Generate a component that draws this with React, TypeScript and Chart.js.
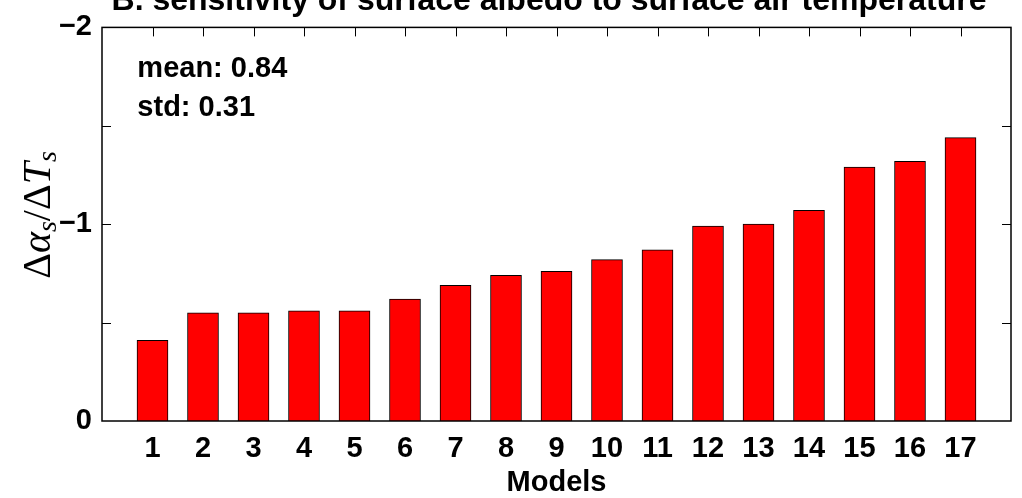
import React, { useEffect, useRef } from "react";
import { Chart, registerables } from "chart.js";

Chart.register(...registerables);

const models: string[] = ["1", "2", "3", "4", "5", "6", "7", "8", "9", "10", "11", "12", "13", "14", "15", "16", "17"];
const sensitivity: number[] = [-0.41, -0.55, -0.55, -0.56, -0.56, -0.62, -0.69, -0.74, -0.76, -0.82, -0.87, -0.99, -1.0, -1.07, -1.29, -1.32, -1.44];
const yLabelMap: Record<string, string> = { "-2": "\u22122", "-1": "\u22121", "0": "0" };
const statLines: string[] = ["mean: 0.84", "std: 0.31"];
const titleText = "B. sensitivity of surface albedo to surface air temperature";
const xTitle = "Models";

const SANS = '"Liberation Sans", Arial, sans-serif';
const SERIF = '"Liberation Serif", "Times New Roman", serif';

const framePlugin = {
  id: "matlabFrame",
  beforeDatasetsDraw(chart: any) {
    const { ctx, chartArea: a, scales } = chart;
    const x = scales.x;
    const y = scales.y;
    const tl = 9;
    ctx.save();
    ctx.strokeStyle = "#000";
    ctx.lineWidth = 1;
    for (let i = 1; i <= models.length; i++) {
      const px = Math.round(x.getPixelForValue(i)) + 0.5;
      ctx.beginPath();
      ctx.moveTo(px, a.top);
      ctx.lineTo(px, a.top + tl);
      ctx.moveTo(px, a.bottom);
      ctx.lineTo(px, a.bottom - tl);
      ctx.stroke();
    }
    for (let v = -1.5; v <= -0.5; v += 0.5) {
      const py = Math.round(y.getPixelForValue(v)) + 0.5;
      ctx.beginPath();
      ctx.moveTo(a.left, py);
      ctx.lineTo(a.left + tl, py);
      ctx.moveTo(a.right, py);
      ctx.lineTo(a.right - tl, py);
      ctx.stroke();
    }
    ctx.restore();
  },
  afterDraw(chart: any) {
    const { ctx, chartArea: a, scales } = chart;
    const x = scales.x;
    const y = scales.y;
    ctx.save();
    // frame
    ctx.strokeStyle = "#000";
    ctx.lineWidth = 1.5;
    ctx.strokeRect(a.left, a.top, a.right - a.left, a.bottom - a.top);

    // stats text
    ctx.fillStyle = "#000";
    ctx.font = `bold 29px ${SANS}`;
    ctx.textAlign = "left";
    ctx.textBaseline = "alphabetic";
    ctx.fillText(statLines[0], x.getPixelForValue(0.7), y.getPixelForValue(-1.75));
    ctx.fillText(statLines[1], x.getPixelForValue(0.7), y.getPixelForValue(-1.55));

    // title (clipped at top as in the reference)
    ctx.font = `bold 32px ${SANS}`;
    ctx.textAlign = "center";
    ctx.fillText(titleText, 549, 10);

    // x title
    ctx.font = `bold 29px ${SANS}`;
    ctx.textBaseline = "middle";
    ctx.fillText(xTitle, (a.left + a.right) / 2, 483);

    // y title: \Delta\alpha_s/\Delta T_s
    const pieces = [
      { t: "\u0394", f: `40px ${SERIF}`, dy: 0 },
      { t: "\u03b1", f: `italic 40px ${SERIF}`, dy: 0 },
      { t: "s", f: `italic 28px ${SERIF}`, dy: 6 },
      { t: "/", f: `40px ${SERIF}`, dy: 0 },
      { t: "\u0394", f: `40px ${SERIF}`, dy: 0 },
      { t: "T", f: `italic 40px ${SERIF}`, dy: 0 },
      { t: "s", f: `italic 28px ${SERIF}`, dy: 6 },
    ];
    let total = 0;
    const widths = pieces.map((p) => {
      ctx.font = p.f;
      const w = ctx.measureText(p.t).width;
      total += w;
      return w;
    });
    ctx.translate(50, 215);
    ctx.rotate(-Math.PI / 2);
    ctx.textAlign = "left";
    ctx.textBaseline = "alphabetic";
    let cx = -total / 2;
    pieces.forEach((p, i) => {
      ctx.font = p.f;
      ctx.fillText(p.t, cx, p.dy);
      cx += widths[i];
    });
    ctx.restore();
  },
};

export default function App() {
  const ref = useRef<HTMLCanvasElement | null>(null);
  useEffect(() => {
    document.body.style.margin = "0";
    const canvas = ref.current;
    if (!canvas) return;
    const chart = new Chart(canvas, {
      type: "bar",
      data: {
        datasets: [
          {
            data: sensitivity.map((v, i) => ({ x: i + 1, y: v })),
            backgroundColor: "#ff0000",
            borderColor: "#000000",
            borderWidth: 1,
            barThickness: 31,
          },
        ],
      },
      options: {
        responsive: false,
        animation: false,
        devicePixelRatio: 1,
        layout: { padding: { top: 18, right: 2, left: 0, bottom: 0 } },
        plugins: { legend: { display: false }, tooltip: { enabled: false }, title: { display: false } },
        scales: {
          x: {
            type: "linear",
            min: 0,
            max: 18,
            offset: false,
            grid: { display: false, drawTicks: false },
            border: { display: false },
            ticks: {
              stepSize: 1,
              autoSkip: false,
              maxRotation: 0,
              padding: 11,
              color: "#000",
              font: { family: SANS, size: 29, weight: "bold" },
              callback: (v: any) => {
                const n = Number(v);
                return n >= 1 && n <= models.length ? models[n - 1] : "";
              },
            },
            afterFit: (s: any) => {
              s.height = 77;
            },
          },
          y: {
            type: "linear",
            min: -2,
            max: 0,
            reverse: true,
            grid: { display: false, drawTicks: false },
            border: { display: false },
            ticks: {
              stepSize: 0.5,
              padding: 10,
              color: "#000",
              font: { family: SANS, size: 29, weight: "bold" },
              callback: (v: any) => yLabelMap[String(Number(v))] ?? "",
            },
            afterFit: (s: any) => {
              s.width = 102;
            },
          },
        },
      },
      plugins: [framePlugin],
    });
    return () => chart.destroy();
  }, []);
  return <canvas ref={ref} width={1022} height={498} style={{ display: "block" }} />;
}
